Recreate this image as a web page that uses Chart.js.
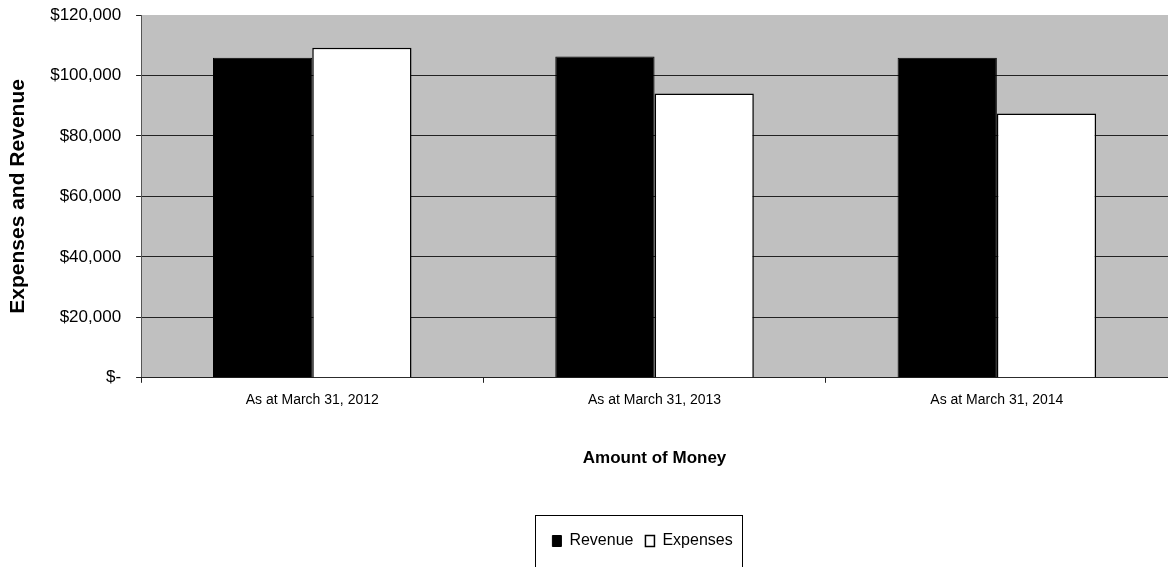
<!DOCTYPE html>
<html>
<head>
<meta charset="utf-8">
<title>Expenses and Revenue</title>
<script src="https://cdn.jsdelivr.net/npm/chart.js@4/dist/chart.umd.min.js"></script>
<style>
  html, body { margin: 0; padding: 0; background: #fff; }
  #wrap { width: 1168px; height: 567px; }
</style>
</head>
<body>
<div id="wrap"><canvas id="moneyChart"></canvas></div>
<script>
// Chart data
const categories = ["As at March 31, 2012", "As at March 31, 2013", "As at March 31, 2014"];
const revenue = [105900, 106300, 105900];
const expenses = [109200, 94000, 87400];
const yTicks = [0, 20000, 40000, 60000, 80000, 100000, 120000];

// gray plot background, like the old Excel charts
const plotBackground = {
    id: 'plotBackground',
    beforeDraw(chart) {
        const { ctx, chartArea } = chart;
        ctx.save();
        ctx.fillStyle = '#c0c0c0';
        ctx.fillRect(chartArea.left, chartArea.top, chartArea.right - chartArea.left, chartArea.bottom - chartArea.top);
        ctx.restore();
    }
};

// legend sits a bit left of the plot centre in the original
const legendNudge = {
    id: 'legendNudge',
    afterLayout(chart) {
        chart.legend.left -= 12;
        chart.legend.right -= 12;
    }
};

// box around the legend
const legendBorder = {
    id: 'legendBorder',
    afterDraw(chart) {
        const boxes = chart.legend.legendHitBoxes;
        if (!boxes || !boxes.length) return;
        const ctx = chart.ctx;
        const left = Math.min(...boxes.map(b => b.left)) - 17;
        const right = Math.max(...boxes.map(b => b.left + b.width)) + 10;
        const top = boxes[0].top + boxes[0].height / 2 - 26;
        ctx.save();
        ctx.strokeStyle = '#000';
        ctx.lineWidth = 1;
        ctx.strokeRect(Math.round(left) + 0.5, Math.round(top) + 0.5, Math.round(right - left), 80);
        ctx.restore();
    }
};

function money(v) {
    if (v === 0) return '$-';
    return '$' + v.toLocaleString('en-US');
}

const ctx = document.getElementById('moneyChart').getContext('2d');
new Chart(ctx, {
    type: 'bar',
    data: {
        labels: categories,
        datasets: [{
            label: 'Revenue',
            data: revenue,
            backgroundColor: '#000',
            borderColor: '#000',
            borderWidth: 1
        }, {
            label: 'Expenses',
            data: expenses,
            backgroundColor: '#fff',
            borderColor: '#000',
            borderWidth: 1.5
        }]
    },
    plugins: [plotBackground, legendNudge, legendBorder],
    options: {
        responsive: true,
        maintainAspectRatio: false,
        animation: false,
        categoryPercentage: 0.58,
        barPercentage: 1,
        layout: { padding: { top: 5, right: 0, bottom: 8, left: 0 } },
        plugins: {
            tooltip: { enabled: false },
            legend: {
                position: 'bottom',
                fullSize: false,
                labels: {
                    color: '#000',
                    font: { family: 'Liberation Sans', size: 16 },
                    boxWidth: 9,
                    boxHeight: 11,
                    padding: 12
                }
            }
        },
        scales: {
            y: {
                min: 0,
                max: 120000,
                afterBuildTicks(axis) {
                    axis.ticks = yTicks.map(v => ({ value: v }));
                },
                // room above and below the axis for half a label
                afterFit(axis) {
                    axis.paddingTop = 15;
                    axis.paddingBottom = 10;
                },
                border: { display: true, color: '#555', width: 1 },
                grid: {
                    // no line along the top of the plot, only the tick mark
                    color: c => (c.tick && c.tick.value === 120000 ? 'rgba(0,0,0,0)' : '#222'),
                    tickColor: '#222',
                    lineWidth: 1,
                    tickLength: 5
                },
                ticks: {
                    color: '#000',
                    padding: 15,
                    font: { family: 'Liberation Sans', size: 17 },
                    callback: v => money(v)
                },
                title: {
                    display: true,
                    text: 'Expenses and Revenue',
                    color: '#000',
                    font: { family: 'Liberation Sans', size: 21, weight: 'bold' },
                    padding: { top: 6, bottom: 4 }
                }
            },
            x: {
                border: { display: true, color: '#222', width: 1 },
                grid: { drawOnChartArea: false, drawTicks: true, tickLength: 5, color: '#222' },
                ticks: {
                    color: '#000',
                    padding: 9,
                    font: { family: 'Liberation Sans', size: 14 }
                },
                title: {
                    display: true,
                    text: 'Amount of Money',
                    color: '#000',
                    font: { family: 'Liberation Sans', size: 17, weight: 'bold' },
                    padding: { top: 31, bottom: 52 }
                }
            }
        }
    }
});
</script>
</body>
</html>
